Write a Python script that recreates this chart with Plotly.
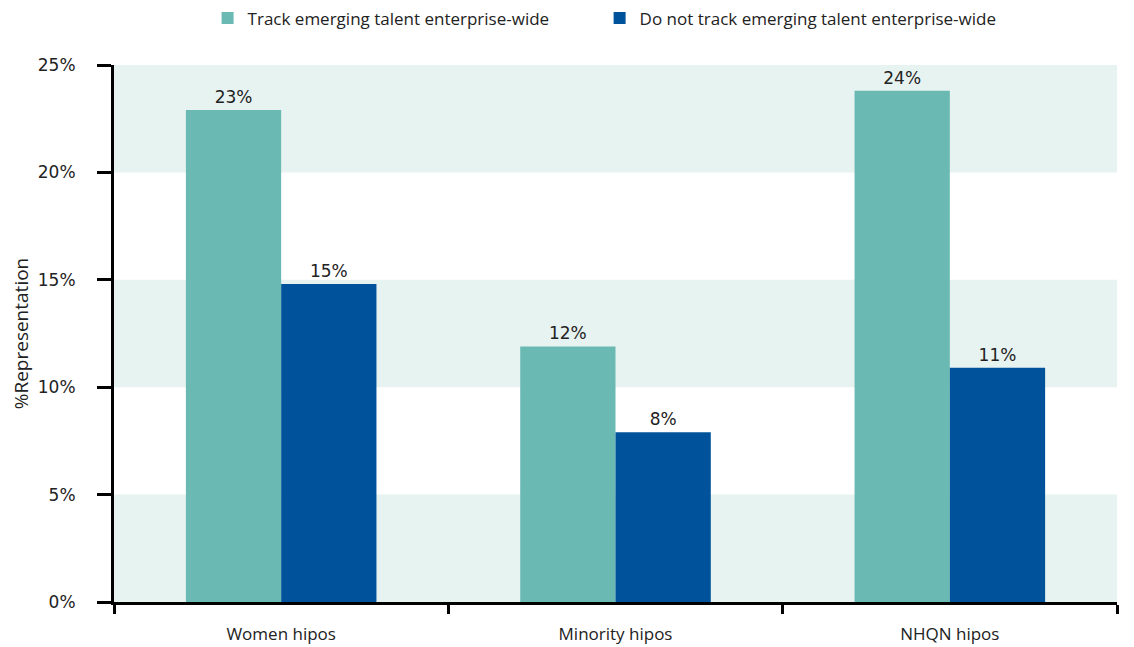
import plotly.graph_objects as go

categories = ["Women hipos", "Minority hipos", "NHQN hipos"]
track = [22.9, 11.9, 23.8]
no_track = [14.8, 7.9, 10.9]
series_names = ["Track emerging talent enterprise-wide", "Do not track emerging talent enterprise-wide"]
y_ticks = [0, 5, 10, 15, 20, 25]

TEAL = "#6ab9b2"
BLUE = "#00539b"
BAND = "#e7f3f1"
FONT = "Open Sans"
NUMFONT = "DejaVu Sans"

fig = go.Figure()
for name, vals, col, lg in [(series_names[0], track, TEAL, "legend"),
                            (series_names[1], no_track, BLUE, "legend2")]:
    fig.add_trace(go.Bar(
        x=categories, y=vals, name=name, marker_color=col, marker_line_width=0,
        text=[f"{round(v):d}%" for v in vals], textposition="outside",
        textfont=dict(size=17, color="#222222", family=NUMFONT), cliponaxis=False,
        legend=lg,
    ))

# alternating background bands
for i in range(0, len(y_ticks) - 1, 2):
    fig.add_shape(type="rect", xref="paper", yref="y", x0=0, x1=1,
                  y0=y_ticks[i], y1=y_ticks[i + 1], fillcolor=BAND,
                  line_width=0, layer="below")

legend_common = dict(orientation="h", xref="container", xanchor="left",
                     yref="container", y=0.984, yanchor="middle", font=dict(size=17))

fig.update_layout(
    width=1134, height=647,
    margin=dict(l=106, r=25, t=57, b=53, autoexpand=False),
    plot_bgcolor="white", paper_bgcolor="white",
    barmode="group", bargap=0.43, bargroupgap=0,
    font=dict(family=FONT, size=17, color="#222222"),
    legend=dict(x=0.176, **legend_common),
    legend2=dict(x=0.5217, **legend_common),
    showlegend=True,
)
fig.update_yaxes(
    range=[0, 25], tickvals=y_ticks, ticktext=[f"{t}%" for t in y_ticks],
    showgrid=False, zeroline=False, showline=True, linecolor="black", linewidth=3,
    ticks="outside", ticklen=14, tickwidth=3, tickcolor="black", automargin=False,
    ticklabelstandoff=18,
    tickfont=dict(size=17, family=NUMFONT),
    title=dict(text="%Representation", font=dict(size=19), standoff=6),
)
fig.update_xaxes(
    showgrid=False, showline=True, linecolor="black", linewidth=3, automargin=False,
    ticks="outside", tickson="boundaries", ticklen=9, tickwidth=3, tickcolor="black",
    ticklabelstandoff=15, tickfont=dict(size=17),
)

fig.write_html("out.html")
